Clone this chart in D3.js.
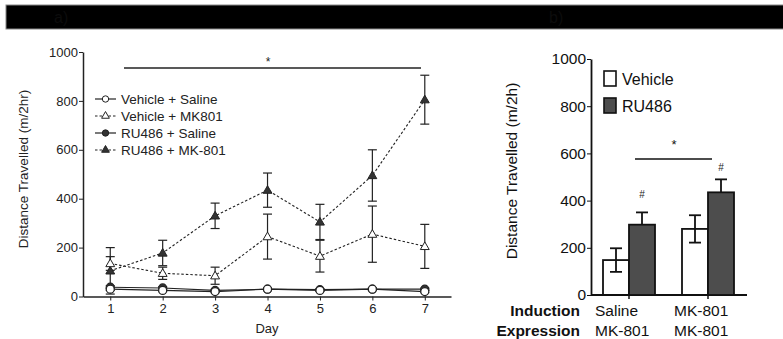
<!DOCTYPE html>
<html><head><meta charset="utf-8">
<script src="https://cdn.jsdelivr.net/npm/d3@7"></script>
<style>body{margin:0;background:#fff}svg{display:block;font-family:"Liberation Sans",Arial,sans-serif}</style>
</head><body><svg id="c" width="783" height="339"></svg>
<script>
const days = [1,2,3,4,5,6,7];
const vehSaline = [30,25,20,30,25,30,20];
const vehSalineErr = [5,5,4,4,4,4,4];
const vehMK = [135,95,85,245,165,255,205];
const vehMKErr = [28,25,35,92,65,115,90];
const ruSaline = [38,35,25,30,28,30,30];
const ruSalineErr = [6,5,4,4,4,4,4];
const ruMK = [105,178,330,435,305,495,805];
const ruMKErr = [95,52,52,70,72,105,100];
const seriesNames = ["Vehicle + Saline","Vehicle + MK801","RU486 + Saline","RU486 + MK-801"];
const yTicks = [0,200,400,600,800,1000];

const groupsInduction = ["Saline","MK-801"];
const groupsExpression = ["MK-801","MK-801"];
const barVehicle = [148,280];
const barVehicleErr = [50,58];
const barRU = [298,435];
const barRUErr = [52,55];
const barLegend = ["Vehicle","RU486"];

const svg = d3.select("#c");
const fmt = d3.format("d");
// header
svg.append("rect").attr("x",6).attr("y",5).attr("width",780).attr("height",24).attr("fill","#000").attr("stroke","#888").attr("stroke-width",1);
svg.append("text").attr("x",54).attr("y",23).attr("font-size",16).attr("fill","#0c0c0c").text("a)");
svg.append("text").attr("x",549).attr("y",23).attr("font-size",16).attr("fill","#0c0c0c").text("b)");

// Panel a
const yA = d3.scaleLinear().domain([0,1000]).range([296.5,52]);
const gA = svg.append("g");
gA.append("g").attr("transform","translate(83,0)")
  .call(d3.axisLeft(yA).tickValues(yTicks).tickFormat(fmt).tickSize(4).tickSizeOuter(0).tickPadding(1))
  .call(g=>{g.select(".domain").attr("stroke","#222").attr("stroke-width",1.5);g.selectAll("line").attr("stroke","#222");g.selectAll("text").attr("font-size",13).attr("fill","#222").attr("font-family","Liberation Sans, Arial");});
const xAx = d3.scaleLinear().domain([0.48,7.5]).range([83,451]);
gA.append("g").attr("transform","translate(0,296.5)")
  .call(d3.axisBottom(xAx).tickValues(days).tickFormat(fmt).tickSize(4).tickSizeOuter(0).tickPadding(3))
  .call(g=>{g.select(".domain").attr("stroke","#222").attr("stroke-width",1.5);g.selectAll("line").attr("stroke","#222");g.selectAll("text").attr("font-size",13).attr("fill","#222").attr("font-family","Liberation Sans, Arial");});
gA.append("text").attr("x",267).attr("y",333).attr("text-anchor","middle").attr("font-size",13).attr("fill","#222").text("Day");
gA.append("text").attr("transform","translate(28,169) rotate(-90)").attr("text-anchor","middle").attr("font-size",13.5).attr("fill","#222").text("Distance Travelled (m/2hr)");

const X = d=>xAx(d);
const series = [
  {v:vehSaline,err:vehSalineErr,dash:null,shape:"circle",fill:"#fff"},
  {v:vehMK,err:vehMKErr,dash:"2.5,2",shape:"tri",fill:"#fff"},
  {v:ruSaline,err:ruSalineErr,dash:null,shape:"circle",fill:"#333"},
  {v:ruMK,err:ruMKErr,dash:"2.5,2",shape:"tri",fill:"#333"}
];
[3,1,2,0].forEach(si=>{
  const s = series[si];
  const line = d3.line().x((d,i)=>X(days[i])).y(d=>yA(d));
  gA.append("path").attr("d",line(s.v)).attr("fill","none").attr("stroke","#222").attr("stroke-width",1.1).attr("stroke-dasharray",s.dash);
  s.v.forEach((d,i)=>{
    const x=X(days[i]);
    const e=s.err[i];
    gA.append("line").attr("x1",x).attr("x2",x).attr("y1",yA(d-e)).attr("y2",yA(d+e)).attr("stroke","#222").attr("stroke-width",1.2);
    [d-e,d+e].forEach(v=>gA.append("line").attr("x1",x-4.5).attr("x2",x+4.5).attr("y1",yA(v)).attr("y2",yA(v)).attr("stroke","#222").attr("stroke-width",1.2));
  });
});
function marker(g,shape,fill,x,y){
  if(shape==="circle") g.append("circle").attr("cx",x).attr("cy",y).attr("r",4).attr("fill",fill).attr("stroke","#222").attr("stroke-width",1.2);
  else g.append("path").attr("d",d3.symbol(d3.symbolTriangle,34)()).attr("transform",`translate(${x},${y+0.6})`).attr("fill",fill).attr("stroke","#222").attr("stroke-width",1);
}
[3,1,2,0].forEach(si=>{const s=series[si];s.v.forEach((d,i)=>marker(gA,s.shape,s.fill,X(days[i]),yA(d)));});

// significance
gA.append("line").attr("x1",124).attr("x2",421).attr("y1",68).attr("y2",68).attr("stroke","#222").attr("stroke-width",1.3);
gA.append("text").attr("x",268).attr("y",66).attr("text-anchor","middle").attr("font-size",12).attr("fill","#222").text("*");

// legend a
const legY=[99,116,133,150];
series.forEach((s,i)=>{
  const y=legY[i];
  gA.append("line").attr("x1",95).attr("x2",116).attr("y1",y).attr("y2",y).attr("stroke","#222").attr("stroke-width",1.2).attr("stroke-dasharray",s.dash);
  if(s.shape==="circle") gA.append("circle").attr("cx",105.5).attr("cy",y).attr("r",3.2).attr("fill",s.fill).attr("stroke","#222").attr("stroke-width",1);
  else gA.append("path").attr("d",d3.symbol(d3.symbolTriangle,26)()).attr("transform",`translate(105.5,${y})`).attr("fill",s.fill).attr("stroke","#222").attr("stroke-width",1);
  gA.append("text").attr("x",121).attr("y",y+5).attr("font-size",13.5).attr("fill","#222").text(seriesNames[i]);
});

// Panel b
const yB = d3.scaleLinear().domain([0,1000]).range([295,59]);
const gB = svg.append("g");
gB.append("g").attr("transform","translate(591,0)")
  .call(d3.axisLeft(yB).tickValues(yTicks).tickFormat(fmt).tickSize(4).tickSizeOuter(0).tickPadding(1))
  .call(g=>{g.select(".domain").attr("stroke","#111").attr("stroke-width",1.8);g.selectAll("line").attr("stroke","#111");g.selectAll("text").attr("font-size",15.5).attr("fill","#111").attr("font-family","Liberation Sans, Arial");});
gB.append("text").attr("transform","translate(517,171) rotate(-90)").attr("text-anchor","middle").attr("font-size",15.5).attr("fill","#111").text("Distance Travelled (m/2h)");
const bw=26;
const hashGap=[14,8];
const xB = d3.scaleLinear().domain([0,1]).range([629,708]);
gB.append("line").attr("x1",591).attr("x2",747).attr("y1",295).attr("y2",295).attr("stroke","#111").attr("stroke-width",1.8);
[0,1].forEach(i=>{
  const c=xB(i);
  gB.append("line").attr("x1",c).attr("x2",c).attr("y1",295).attr("y2",299).attr("stroke","#111").attr("stroke-width",1.5);
  const bars=[{v:barVehicle[i],e:barVehicleErr[i],fill:"#fff",x:c-bw},{v:barRU[i],e:barRUErr[i],fill:"#4d4d4d",x:c}];
  bars.forEach(b=>{
    const cx=b.x+bw/2;
    gB.append("line").attr("x1",cx).attr("x2",cx).attr("y1",yB(b.v-b.e)).attr("y2",yB(b.v+b.e)).attr("stroke","#111").attr("stroke-width",1.8);
    [b.v-b.e,b.v+b.e].forEach(v=>gB.append("line").attr("x1",cx-6).attr("x2",cx+6).attr("y1",yB(v)).attr("y2",yB(v)).attr("stroke","#111").attr("stroke-width",1.8));
    gB.append("rect").attr("x",b.x).attr("y",yB(b.v)).attr("width",bw).attr("height",295-yB(b.v)).attr("fill",b.fill).attr("fill-opacity",b.fill==="#fff"?0:1).attr("stroke","#111").attr("stroke-width",1.8);
  });
  gB.append("text").attr("x",c+bw/2).attr("y",yB(barRU[i]+barRUErr[i])-hashGap[i]).attr("text-anchor","middle").attr("font-size",10).attr("fill","#222").text("#");
  gB.append("text").attr("x",c-34).attr("y",316).attr("font-size",15.5).attr("fill","#111").text(groupsInduction[i]);
  gB.append("text").attr("x",c-34).attr("y",336).attr("font-size",15.5).attr("fill","#111").text(groupsExpression[i]);
});
gB.append("text").attr("x",580).attr("y",316).attr("text-anchor","end").attr("font-size",15.5).attr("font-weight","bold").attr("fill","#111").text("Induction");
gB.append("text").attr("x",580).attr("y",336).attr("text-anchor","end").attr("font-size",15.5).attr("font-weight","bold").attr("fill","#111").text("Expression");
gB.append("line").attr("x1",635).attr("x2",712).attr("y1",159).attr("y2",159).attr("stroke","#111").attr("stroke-width",1.5);
gB.append("text").attr("x",674).attr("y",149).attr("text-anchor","middle").attr("font-size",13).attr("fill","#111").text("*");
// legend b
const lfill=["#fff","#4d4d4d"];
barLegend.forEach((t,i)=>{
  const y=71+i*27;
  gB.append("rect").attr("x",604).attr("y",y).attr("width",12).attr("height",15).attr("fill",lfill[i]).attr("stroke","#111").attr("stroke-width",1.6);
  gB.append("text").attr("x",622).attr("y",y+13.5).attr("font-size",16).attr("fill","#111").text(t);
});
</script></body></html>
